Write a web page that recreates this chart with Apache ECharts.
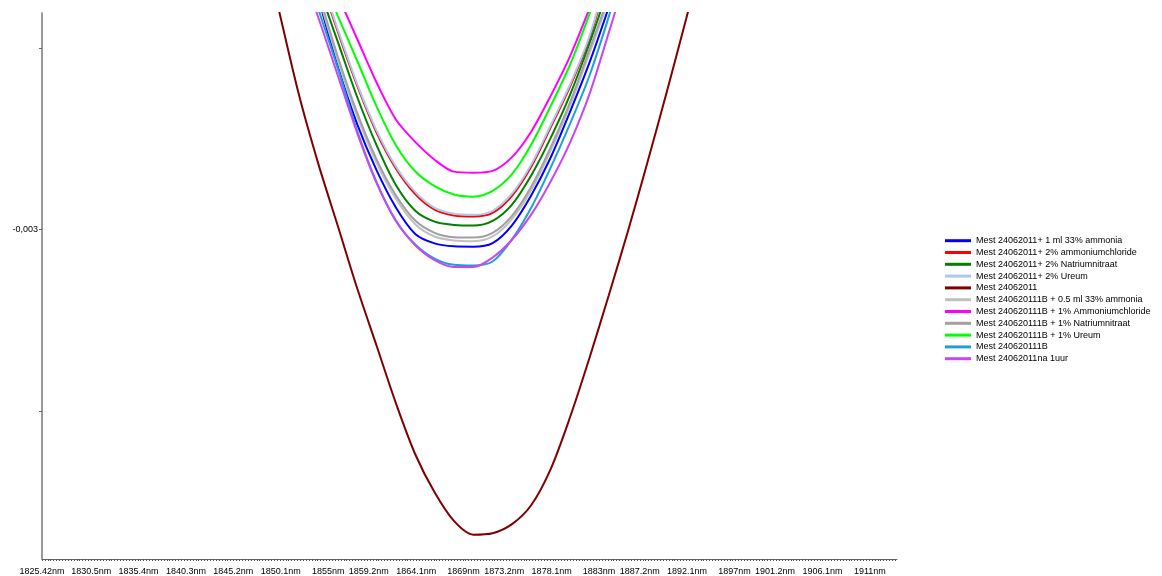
<!DOCTYPE html>
<html>
<head>
<meta charset="utf-8">
<script src="https://cdn.jsdelivr.net/npm/echarts@6/dist/echarts.min.js"></script>
<style>
  html, body { margin: 0; background: #fff; }
  #chart { width: 1162px; height: 576px; }
</style>
</head>
<body>
<div id="chart"></div>
<script>
// wavelengths (nm) where the curves were read
const wavelengths = [1848, 1850, 1852, 1854, 1856, 1858, 1860, 1862, 1864, 1866, 1868, 1870,
  1872, 1874, 1876, 1878, 1880, 1882, 1884, 1886, 1888, 1890, 1892, 1894]

const xLabels = [1825.42, 1830.5, 1835.4, 1840.3, 1845.2, 1850.1, 1855, 1859.2, 1864.1, 1869,
  1873.2, 1878.1, 1883, 1887.2, 1892.1, 1897, 1901.2, 1906.1, 1911]
const yLabels = [-0.003]
const yTicks = [-0.0025, -0.003, -0.0035]

const names = [
  "Mest 24062011+ 1 ml 33% ammonia",
  "Mest 24062011+ 2% ammoniumchloride",
  "Mest 24062011+ 2% Natriumnitraat",
  "Mest 24062011+ 2% Ureum",
  "Mest 24062011",
  "Mest 240620111B + 0.5 ml 33% ammonia",
  "Mest 240620111B + 1% Ammoniumchloride",
  "Mest 240620111B + 1% Natriumnitraat",
  "Mest 240620111B + 1% Ureum",
  "Mest 240620111B",
  "Mest 24062011na 1uur",
]
const colors = ["#0000ff", "#ff0000", "#008000", "#a6caf0", "#800000", "#c0c0c0",
  "#ff00ff", "#a0a0a4", "#00ff00", "#1e9fd7", "#c846f5"]

const n = null
const blue = [n, n, n, -0.002361, -0.002550, -0.002709, -0.002836, -0.002939, -0.003012, -0.003038,
  -0.003046, -0.003047, -0.003037, -0.002988, -0.002905, -0.002801, -0.002675, -0.002540, -0.002387, n, n, n, n, n]
const red = [n, n, n, -0.002293, -0.002454, -0.002603, -0.002732, -0.002831, -0.002902, -0.002945,
  -0.002961, -0.002964, -0.002954, -0.002907, -0.002826, -0.002718, -0.002605, -0.002473, -0.002291, n, n, n, n, n]
const green = [n, n, n, -0.002331, -0.002482, -0.002634, -0.002767, -0.002877, -0.002948, -0.002978,
  -0.002987, -0.002989, -0.002976, -0.002931, -0.002850, -0.002747, -0.002628, -0.002487, -0.002331, n, n, n, n, n]
const lightBlue = [n, n, n, -0.002288, -0.002448, -0.002598, -0.002726, -0.002826, -0.002896, -0.002940,
  -0.002956, -0.002959, -0.002948, -0.002901, -0.002820, -0.002712, -0.002600, -0.002467, -0.002285, n, n, n, n, n]
const maroon = [-0.002174, -0.002405, -0.002630, -0.002820, -0.002990, -0.003162, -0.003320, -0.003479,
  -0.003620, -0.003725, -0.003804, -0.003842, -0.003838, -0.003813, -0.003760, -0.003661, -0.003518,
  -0.003355, -0.003182, -0.003003, -0.002815, -0.002620, -0.002419, -0.002212]
const lightGray = [n, n, n, -0.002355, -0.002533, -0.002687, -0.002815, -0.002915, -0.002985, -0.003019,
  -0.003030, -0.003032, -0.003019, -0.002971, -0.002891, -0.002782, -0.002658, -0.002514, -0.002367, n, n, n, n, n]
const magenta = [n, n, n, n, -0.002354, -0.002474, -0.002594, -0.002696, -0.002758, -0.002807,
  -0.002840, -0.002843, -0.002838, -0.002800, -0.002729, -0.002631, -0.002522, -0.002391, -0.002256, n, n, n, n, n]
const gray = [n, n, n, -0.002345, -0.002523, -0.002678, -0.002806, -0.002905, -0.002975, -0.003009,
  -0.003021, -0.003022, -0.003009, -0.002962, -0.002881, -0.002773, -0.002649, -0.002504, -0.002358, n, n, n, n, n]
const lime = [n, n, n, -0.002284, -0.002410, -0.002534, -0.002660, -0.002767, -0.002839, -0.002880,
  -0.002903, -0.002909, -0.002893, -0.002847, -0.002765, -0.002659, -0.002545, -0.002406, -0.002253, n, n, n, n, n]
const cyan = [n, n, n, -0.002393, -0.002555, -0.002728, -0.002869, -0.002976, -0.003041, -0.003080,
  -0.003097, -0.003099, -0.003088, -0.003027, -0.002939, -0.002829, -0.002708, -0.002576, -0.002413, -0.002233, n, n, n, n]
const violet = [n, n, -0.002265, -0.002416, -0.002575, -0.002733, -0.002871, -0.002975, -0.003043, -0.003084,
  -0.003103, -0.003103, -0.003077, -0.003028, -0.002958, -0.002867, -0.002760, -0.002627, -0.002457, -0.002284, n, n, n, n]

const values = [blue, red, green, lightBlue, maroon, lightGray, magenta, gray, lime, cyan, violet]

const xMin = 1825.42
const xMax = 1913.8

// dense little ticks along the wavelength axis
const xTicks = []
for (let t = xMin; t <= xMax; t += 0.3) xTicks.push(t)

const font = "'Liberation Sans', Arial, sans-serif"

const chart = echarts.init(document.getElementById("chart"))
chart.setOption({
  animation: false,
  backgroundColor: "#fff",
  grid: { left: 42, right: 265, top: 13, bottom: 16 },
  legend: {
    orient: "vertical",
    left: 945,
    top: 234.8,
    padding: 0,
    icon: "rect",
    itemWidth: 26,
    itemHeight: 3,
    itemGap: 0,
    textStyle: { fontFamily: font, fontSize: 9, color: "#000", lineHeight: 11.8 },
    data: names,
  },
  xAxis: {
    type: "value",
    min: xMin,
    max: xMax,
    axisLine: { lineStyle: { color: "#666", width: 1 } },
    axisTick: { customValues: xTicks, length: 2, lineStyle: { color: "#555" } },
    axisLabel: {
      customValues: xLabels,
      showMinLabel: true,
      margin: 8,
      fontFamily: font,
      fontSize: 9,
      color: "#000",
      formatter: (v) => v + "nm",
    },
    splitLine: { show: false },
  },
  yAxis: {
    type: "value",
    min: -0.0039091,
    max: -0.0024022,
    axisLine: { show: true, lineStyle: { color: "#777", width: 1.5 } },
    axisTick: { show: true, customValues: yTicks, length: 3, lineStyle: { color: "#666" } },
    axisLabel: {
      customValues: yLabels,
      margin: 4,
      fontFamily: font,
      fontSize: 9,
      color: "#000",
      formatter: (v) => v.toFixed(3).replace(".", ","),
    },
    splitLine: { show: false },
  },
  series: names.map((name, i) => ({
    name: name,
    type: "line",
    data: wavelengths.map((w, j) => [w, values[i][j]]),
    showSymbol: false,
    smooth: 0.3,
    clip: true,
    color: colors[i],
    lineStyle: { width: 2, color: colors[i] },
  })),
})
</script>
</body>
</html>
